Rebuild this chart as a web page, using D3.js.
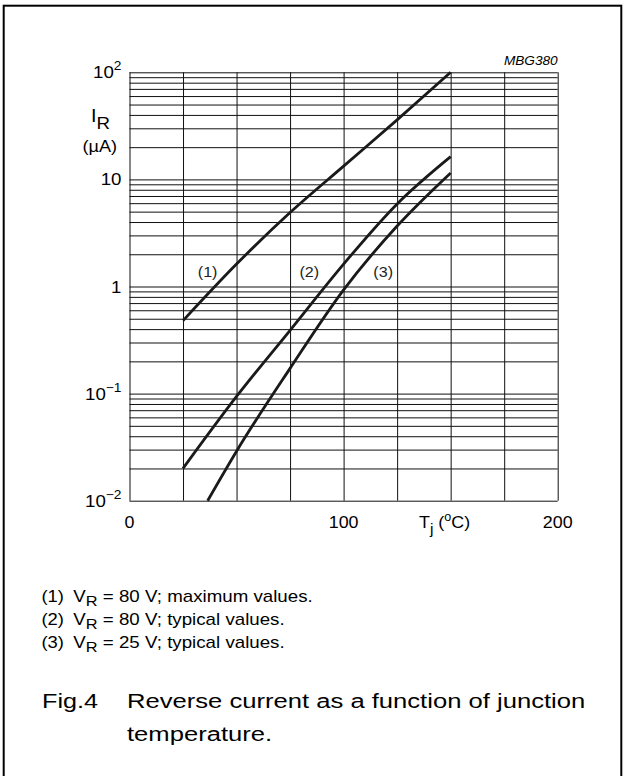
<!DOCTYPE html>
<html>
  <head>
    <meta charset="utf-8"/>
    <script type="text/javascript" src="https://cdnjs.cloudflare.com/ajax/libs/d3/7.8.5/d3.min.js"></script>
    <style type="text/css">

html, body {
  margin: 0;
  padding: 0;
  background: #fff;
}

svg {
  display: block;
  font-family: "Liberation Sans", Arial, sans-serif;
}

.grid line {
  stroke: #111;
  stroke-width: 1px;
}

.grid path {
  display: none;
}

.curve {
  fill: none;
  stroke: #1a1a1a;
  stroke-width: 2.8px;
}

    </style>
  </head>
  <body>
    <div id="chart"></div>
    <script type="text/javascript">

// Reverse current I_R (uA) against junction temperature Tj (degC)
var temps1 = [25, 50, 75, 100, 125, 150];
var ir1 = [0.48, 1.62, 4.9, 13.3, 36, 100];

var temps2 = [25, 50, 75, 100, 125, 150];
var ir2 = [0.02, 0.094, 0.39, 1.62, 5.9, 16.3];

var temps3 = [36.5, 50, 75, 100, 125, 150];
var ir3 = [0.01, 0.029, 0.172, 0.93, 3.67, 11.5];

var curveNames = ["(1)", "(2)", "(3)"];
var labelPos = [[36.5, 1.3], [84, 1.3], [118.5, 1.3]];

var xTicks = [0, 100, 200];
var xGrid = [0, 25, 50, 75, 100, 125, 150, 175, 200];
var yDecades = [-2, -1, 0, 1, 2];

var notes = [
  ["(1)", "80 V; maximum values."],
  ["(2)", "80 V; typical values."],
  ["(3)", "25 V; typical values."]
];

var W = 626, H = 776;
var margin = {left: 129.5, top: 72.3, right: 68.3, bottom: 275.3};
var width = W - margin.left - margin.right,
    height = H - margin.top - margin.bottom;

var svg = d3.select("#chart").append("svg")
    .attr("width", W)
    .attr("height", H);

svg.append("rect")
    .attr("width", W).attr("height", H)
    .attr("fill", "#fff");

// outer frame
svg.append("rect")
    .attr("x", 3.7).attr("y", 5.7)
    .attr("width", 617.6).attr("height", 800)
    .attr("fill", "none")
    .attr("stroke", "#000")
    .attr("stroke-width", 2);

// text set a little wide, like the scanned sheet
function label(parent, px, py, size, sx) {
  return parent.append("g")
      .attr("transform", "translate(" + px + "," + py + ") scale(" + sx + ",1)")
    .append("text")
      .attr("font-size", size);
}

var x = d3.scaleLinear().domain([0, 200]).range([0, width]);
var y = d3.scaleLog().domain([0.01, 100]).range([height, 0]);

var g = svg.append("g")
    .attr("transform", "translate(" + margin.left + "," + margin.top + ")");

// minor + major horizontal grid lines
var yGrid = [];
yDecades.forEach(function(e) {
  var base = Math.pow(10, e);
  for (var k = 1; k <= 9; k++) {
    if (e === 2 && k > 1) break;
    yGrid.push(+(base * k).toPrecision(3));
  }
});

g.append("g")
    .attr("class", "grid")
    .call(d3.axisLeft(y).tickValues(yGrid).tickSize(-width).tickFormat(""));

g.append("g")
    .attr("class", "grid")
    .attr("transform", "translate(0," + height + ")")
    .call(d3.axisBottom(x).tickValues(xGrid).tickSize(-height).tickFormat(""));

// y tick labels
yDecades.forEach(function(e) {
  var t = label(g, -8, y(Math.pow(10, e)) + 6, 17, 1.1)
      .attr("text-anchor", "end");
  if (e === 0) {
    t.text("1");
  } else if (e === 1) {
    t.text("10");
  } else {
    t.append("tspan").text("10");
    t.append("tspan")
        .attr("dy", -8)
        .attr("font-size", 12.5)
        .text(e < 0 ? "\u2212" + (-e) : e);
  }
});

// y axis title
var yt = label(g, -38.5, 50, 18, 1.1);
yt.append("tspan").text("I");
yt.append("tspan").attr("dy", 7).attr("font-size", 17).text("R");

label(g, -47, 80, 16, 1.13).text("(\u00b5A)");

// x tick labels
xTicks.forEach(function(d) {
  label(g, x(d), height + 27, 17, 1.05)
      .attr("text-anchor", "middle")
      .text(d);
});

// x axis title
var xt = label(g, x(135.2), height + 27, 17, 1.05);
xt.append("tspan").text("T");
xt.append("tspan").attr("dy", 6).attr("font-size", 15).text("j");
xt.append("tspan").attr("dy", -6).text(" (");
xt.append("tspan").attr("dy", -7).attr("font-size", 12).text("o");
xt.append("tspan").attr("dy", 7).text("C)");

// figure code
label(g, width, -7, 13, 1.05)
    .attr("text-anchor", "end")
    .attr("font-style", "italic")
    .text("MBG380");

// curves
var line = d3.line()
    .x(function(d) { return x(d[0]); })
    .y(function(d) { return y(d[1]); })
    .curve(d3.curveMonotoneX);

var series = [d3.zip(temps1, ir1), d3.zip(temps2, ir2), d3.zip(temps3, ir3)];

g.selectAll(".curve")
    .data(series)
  .enter().append("path")
    .attr("class", "curve")
    .attr("d", line);

curveNames.forEach(function(d, i) {
  label(g, x(labelPos[i][0]), y(labelPos[i][1]) + 3, 14, 1.15)
      .attr("text-anchor", "middle")
      .attr("fill", "#222")
      .text(d);
});

// notes under the chart
notes.forEach(function(n, i) {
  var yy = 601.5 + i * 23;
  label(svg, 41.5, yy, 16, 1.15).text(n[0]);
  var t = label(svg, 73.3, yy, 16, 1.17);
  t.append("tspan").text("V");
  t.append("tspan").attr("dy", 4).attr("font-size", 14).text("R");
  t.append("tspan").attr("dy", -4).text(" = " + n[1]);
});

// caption
label(svg, 42, 708, 21, 1.2).text("Fig.4");
label(svg, 127, 708, 21, 1.22).text("Reverse current as a function of junction");
label(svg, 127, 740.5, 21, 1.22).text("temperature.");

    </script>
  </body>
</html>
